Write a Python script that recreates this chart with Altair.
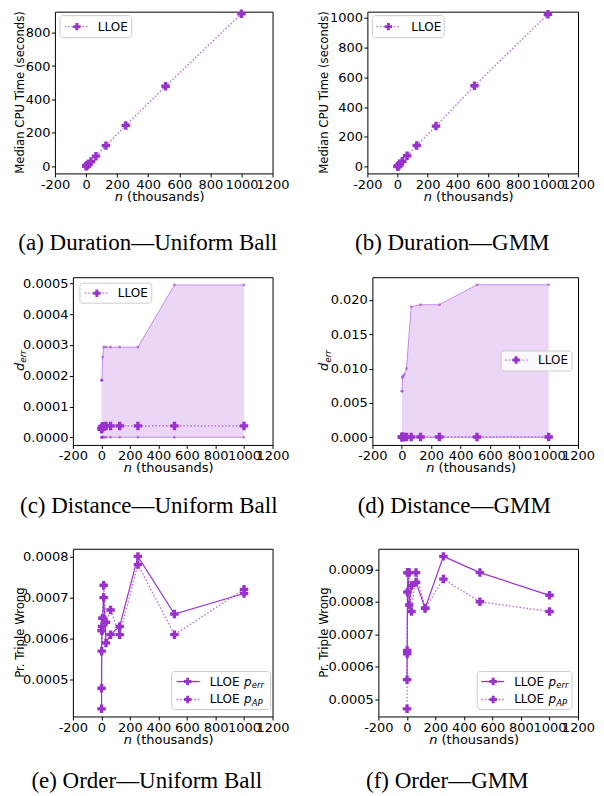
import altair as alt
import pandas as pd

# ---------------- data ----------------
n_thousands = [1, 2, 4, 8, 16, 32, 64, 128, 256, 512, 1000]

dur_uniform = [0.9, 1.8, 3.7, 7.3, 14.5, 29, 61, 124, 245, 479, 912]
dur_gmm = [1.0, 2.0, 4.5, 9.0, 18, 37, 74, 143, 273, 544, 1025]

dist_uniform_median = [0.000026, 0.000029, 0.000032, 0.000035, 0.000036, 0.000037,
                       0.000037, 0.000037, 0.000037, 0.000037, 0.000037]
dist_uniform_upper = [0.000185, 0.000185, 0.000185, 0.000261, 0.000293, 0.000293,
                      0.000293, 0.000293, 0.000293, 0.000495, 0.000495]
dist_uniform_lower = [0, 0, 0, 0, 0, 0, 0, 0, 0, 0, 0]

dist_gmm_median = [0.00004, 0.00004, 0.00005, 0.00005, 0.00005, 0.00005,
                   0.00005, 0.00005, 0.00005, 0.00005, 0.00005]
dist_gmm_upper = [0.0067, 0.0067, 0.0087, 0.0089, 0.0091, 0.0100,
                  0.0190, 0.0193, 0.0193, 0.0222, 0.0222]
dist_gmm_lower = [0, 0, 0, 0, 0, 0, 0, 0, 0, 0, 0]

order_uniform_perr = [0.00043, 0.00057, 0.00062, 0.00065, 0.00070, 0.00059,
                      0.00061, 0.00063, 0.00080, 0.00066, 0.00071]
order_uniform_pap = [0.00048, 0.00062, 0.00063, 0.00065, 0.00073, 0.00064,
                     0.00067, 0.00061, 0.00078, 0.00061, 0.00072]
order_gmm_perr = [0.00056, 0.00065, 0.00083, 0.00089, 0.00079, 0.00085,
                  0.00086, 0.00078, 0.00094, 0.00089, 0.00082]
order_gmm_pap = [0.00047, 0.00064, 0.00089, 0.00089, 0.00089, 0.00077,
                 0.00089, 0.00078, 0.00087, 0.00080, 0.00077]

x_ticks = [-200, 0, 200, 400, 600, 800, 1000, 1200]

captions = ["(a) Duration\u2014Uniform Ball", "(b) Duration\u2014GMM",
            "(c) Distance\u2014Uniform Ball", "(d) Distance\u2014GMM",
            "(e) Order\u2014Uniform Ball", "(f) Order\u2014GMM"]

# ---------------- styling ----------------
PURPLE = "#9932CC"
FONT = "DejaVu Sans"
FS = 13        # tick labels / x titles
FS_LEG = 12    # legend text
FS_YT = 11.7   # rotated y titles
FS_CAP = 23    # captions
MS = 72        # data marker size
EXT = 82       # invisible extension below each panel (row spacing control)
one = pd.DataFrame({"k": [0]})

AX = dict(title=None, grid=False, domain=False, ticks=True, tickSize=3.5,
          tickColor="black", tickWidth=1, labelColor="black", labelFont=FONT,
          labelFontSize=FS, labelPadding=1.5, labelOverlap=False, labelFlush=False)


def xenc():
    return alt.X("n:Q", scale=alt.Scale(domain=[-200, 1200], nice=False, zero=False),
                 axis=alt.Axis(values=x_ticks, labelExpr="'' + datum.value", **AX))


def yenc(field, dom, ticks, fmt):
    return alt.Y(field + ":Q", scale=alt.Scale(domain=dom, nice=False, zero=False),
                 axis=alt.Axis(values=ticks, labelExpr="format(datum.value, '%s')" % fmt, **AX))


def text_layer(txt, x, y, size=FS, style="normal", align="left", angle=0,
               font=FONT, baseline="middle"):
    kw = dict(text=txt, align=align, baseline=baseline, font=font, fontSize=size,
              color="black", fontStyle=style)
    if angle:
        kw["angle"] = angle
    return alt.Chart(one).mark_text(**kw).encode(x=alt.value(x), y=alt.value(y))


def legend_layers(box, entries):
    l, t, r, b = box
    out = [alt.Chart(one).mark_rect(fill="white", fillOpacity=0.85, stroke="#cccccc",
                                    strokeWidth=1, cornerRadius=3)
           .encode(x=alt.value(l), x2=alt.value(r), y=alt.value(t), y2=alt.value(b))]
    for (x0, x1, xm, xt, y, dotted, sub) in entries:
        kw = dict(color=PURPLE, strokeWidth=1.3)
        if dotted:
            kw["strokeDash"] = [1.5, 2.0]
            kw["opacity"] = 0.75
        out.append(alt.Chart(one).mark_rule(**kw)
                   .encode(x=alt.value(x0), x2=alt.value(x1), y=alt.value(y)))
        out.append(alt.Chart(one).mark_point(shape="cross", filled=True, size=55,
                                             color=PURPLE, opacity=1)
                   .encode(x=alt.value(xm), y=alt.value(y)))
        out.append(text_layer("LLOE", xt, y, size=FS_LEG))
        if sub:
            out.append(text_layer("p", xt + 34.5, y, size=FS_LEG, style="italic"))
            out.append(text_layer(sub, xt + 42.2, y + 3.5, size=8.5, style="italic"))
    return out


def frame_layers(w, h, ytitle_x, ytitle, cap, cap_x, cap_y):
    out = []
    # invisible vertical extent that fixes the row height in the vertical stack
    out.append(alt.Chart(one).mark_rule(opacity=0).encode(
        x=alt.value(w / 2), y=alt.value(0), y2=alt.value(h + EXT)))
    out.append(text_layer("n", w / 2 - 49, h + 23.5, style="italic"))
    out.append(text_layer("(thousands)", w / 2 - 36.7, h + 23.5))
    if ytitle == "derr":
        out.append(text_layer("d", ytitle_x, h / 2 + 10, size=FS, style="italic", angle=270))
        out.append(text_layer("err", ytitle_x + 3.5, h / 2 + 1.8, size=9,
                              style="italic", angle=270))
    else:
        out.append(text_layer(ytitle, ytitle_x, h / 2, size=FS_YT, align="center", angle=270))
    out.append(text_layer(cap, cap_x, cap_y, size=FS_CAP, align="center",
                          font="Liberation Serif"))
    return out


VIEW = alt.ViewBackground(stroke="black", strokeWidth=1, strokeOpacity=1)


def duration_panel(vals, w, h, dom, ticks, ytx, legbox, legent, cap, capx, capy):
    df = pd.DataFrame({"n": n_thousands, "v": vals})
    y = yenc("v", dom, ticks, "d")
    line = alt.Chart(df).mark_line(color=PURPLE, strokeDash=[1.5, 2.0], strokeWidth=1.3,
                                   opacity=0.75).encode(x=xenc(), y=y)
    pts = alt.Chart(df).mark_point(shape="cross", filled=True, size=MS, color=PURPLE,
                                   opacity=1).encode(x=xenc(), y=y)
    layers = [line, pts] + legend_layers(legbox, legent) + \
        frame_layers(w, h, ytx, "Median CPU Time (seconds)", cap, capx, capy)
    return alt.layer(*layers).properties(width=w, height=h, view=VIEW)


def distance_panel(med, up, lo, w, h, dom, ticks, fmt, ytx, legbox, legent, cap, capx, capy):
    df = pd.DataFrame({"n": n_thousands, "med": med, "up": up, "lo": lo})
    yu = yenc("up", dom, ticks, fmt)
    yl = yenc("lo", dom, ticks, fmt)
    ym = yenc("med", dom, ticks, fmt)
    area = alt.Chart(df).mark_area(color=PURPLE, opacity=0.2).encode(
        x=xenc(), y=yu, y2=alt.Y2("lo:Q"))
    lu = alt.Chart(df).mark_line(color=PURPLE, opacity=0.5, strokeWidth=1).encode(x=xenc(), y=yu)
    ll = alt.Chart(df).mark_line(color=PURPLE, opacity=0.5, strokeWidth=1).encode(x=xenc(), y=yl)
    pu = alt.Chart(df).mark_point(shape="circle", filled=True, size=9, color=PURPLE,
                                  opacity=0.5).encode(x=xenc(), y=yu)
    pl = alt.Chart(df).mark_point(shape="circle", filled=True, size=9, color=PURPLE,
                                  opacity=0.5).encode(x=xenc(), y=yl)
    lm = alt.Chart(df).mark_line(color=PURPLE, strokeDash=[1.5, 2.0], strokeWidth=1.3,
                                 opacity=0.75).encode(x=xenc(), y=ym)
    pm = alt.Chart(df).mark_point(shape="cross", filled=True, size=MS, color=PURPLE,
                                  opacity=1).encode(x=xenc(), y=ym)
    layers = [area, lu, ll, pu, pl, lm, pm] + legend_layers(legbox, legent) + \
        frame_layers(w, h, ytx, "derr", cap, capx, capy)
    return alt.layer(*layers).properties(width=w, height=h, view=VIEW)


def order_panel(perr, pap, w, h, dom, ticks, ytx, legbox, legent, cap, capx, capy):
    df = pd.DataFrame({"n": n_thousands, "perr": perr, "pap": pap})
    ye = yenc("perr", dom, ticks, ".4f")
    ya = yenc("pap", dom, ticks, ".4f")
    le = alt.Chart(df).mark_line(color=PURPLE, strokeWidth=1.2).encode(x=xenc(), y=ye)
    la = alt.Chart(df).mark_line(color=PURPLE, strokeDash=[1.5, 2.0], strokeWidth=1.3,
                                 opacity=0.75).encode(x=xenc(), y=ya)
    pe = alt.Chart(df).mark_point(shape="cross", filled=True, size=MS, color=PURPLE,
                                  opacity=1).encode(x=xenc(), y=ye)
    pa = alt.Chart(df).mark_point(shape="cross", filled=True, size=MS, color=PURPLE,
                                  opacity=1).encode(x=xenc(), y=ya)
    layers = [le, la, pe, pa] + legend_layers(legbox, legent) + \
        frame_layers(w, h, ytx, "Pr. Triple Wrong", cap, capx, capy)
    return alt.layer(*layers).properties(width=w, height=h, view=VIEW)


def spacer(w, h):
    return alt.Chart(one).mark_rule(opacity=0).encode(
        x=alt.value(0), y=alt.value(0), y2=alt.value(h)).properties(width=w, height=h)


# row 1: box top at page y=8 (bottom 170)
pa_ = duration_panel(dur_uniform, 218, 162, [-42, 925], [0, 200, 400, 600, 800], -35,
                     (5, 4, 77, 26), [(10, 33, 22, 43, 15, True, None)],
                     captions[0], 148 - 55, 240 - 8)
pb_ = duration_panel(dur_gmm, 211, 162, [-45, 1042], [0, 200, 400, 600, 800, 1000], -43,
                     (5, 4, 77, 26), [(9, 32, 21, 44, 15, True, None)],
                     captions[1], 453 - 368, 240 - 8)
# row 2: box top at page y=272
pc_ = distance_panel(dist_uniform_median, dist_uniform_upper, dist_uniform_lower,
                     200, 168, [-0.0000248, 0.00052],
                     [0, 0.0001, 0.0002, 0.0003, 0.0004, 0.0005], ".4f", -53,
                     (7, 6, 79, 26), [(12, 35, 24, 45, 16, True, None)],
                     captions[2], 149 - 73, 501 - 272)
pd_ = distance_panel(dist_gmm_median, dist_gmm_upper, dist_gmm_lower,
                     206, 168, [-0.00111, 0.0233],
                     [0, 0.005, 0.010, 0.015, 0.020], ".3f", -48,
                     (129, 74, 200, 94), [(133, 157, 144, 166, 83, True, None)],
                     captions[3], 455 - 373, 501 - 272)
# row 3: box top at page y=542
pe_ = order_panel(order_uniform_perr, order_uniform_pap, 200, 168,
                  [0.0004115, 0.0008185], [0.0005, 0.0006, 0.0007, 0.0008], -53,
                  (99, 123, 198, 161),
                  [(104, 127, 115, 137, 133, False, "err"),
                   (104, 127, 115, 137, 151, True, "AP")],
                  captions[4], 147 - 73, 775 - 542)
pf_ = order_panel(order_gmm_perr, order_gmm_pap, 200, 168,
                  [0.0004465, 0.0009635], [0.0005, 0.0006, 0.0007, 0.0008, 0.0009], -54,
                  (99, 123, 194, 161),
                  [(103, 126, 115, 136, 133, False, "err"),
                   (103, 126, 115, 136, 151, True, "AP")],
                  captions[5], 448 - 379, 775 - 542)

row1 = alt.hconcat(spacer(47, 162), pa_, spacer(95, 162), pb_, spacing=0, bounds="flush")
row2 = alt.hconcat(spacer(65, 168), pc_, spacer(100, 168), pd_, spacing=0, bounds="flush")
row3 = alt.hconcat(spacer(65, 168), pe_, spacer(106, 168), pf_, spacing=0, bounds="flush")

chart = alt.vconcat(row1, row2, row3, spacing=20, bounds="full").properties(
    padding={"left": 0, "top": 0, "right": 0, "bottom": 0}
).configure_view(strokeOpacity=0)

chart.save("out.html", embed_options={"renderer": "svg", "actions": False})
